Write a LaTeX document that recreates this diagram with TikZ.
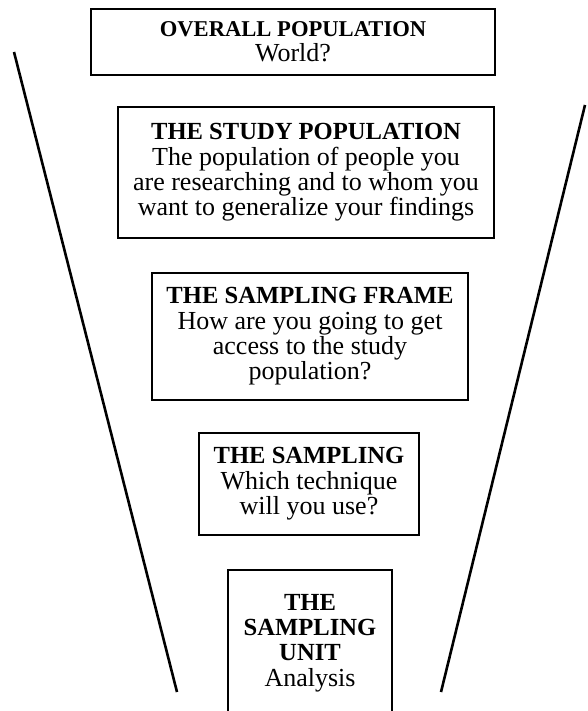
\documentclass[tikz,border=0pt]{standalone}
\usepackage{fontspec}
\setmainfont{Liberation Serif}
\usetikzlibrary{positioning}

\newcommand{\boxtitle}[2][12.3pt]{{\fontsize{#1}{12.7pt}\selectfont\bfseries #2}}

\begin{document}
\begin{tikzpicture}[
  x=0.5pt, y=-0.5pt,
  box/.style={draw, line width=1.25pt, align=center, inner sep=0pt,
    font=\fontsize{13pt}{12.7pt}\selectfont},
  funnel/.style={line width=1.3pt}
]
\useasboundingbox (0,0) rectangle (588,711);
\node[box, minimum width=202pt, minimum height=33pt] (overall) at (293,42)
  {\boxtitle[11.3pt]{OVERALL POPULATION}\\World?};
\node[box, minimum width=188pt, minimum height=65.5pt] (study) at (306,172.5)
  {\boxtitle{THE STUDY POPULATION}\\The population of people you\\are researching and to whom you\\want to generalize your findings};
\node[box, minimum width=158pt, minimum height=63.5pt] (frame) at (310,336.5)
  {\boxtitle{THE SAMPLING FRAME}\\How are you going to get\\access to the study\\population?};
\node[box, minimum width=110pt, minimum height=51pt] (sampling) at (309,484)
  {\boxtitle{THE SAMPLING}\\Which technique\\will you use?};
\node[box, minimum width=82pt, minimum height=73pt] (unit) at (310,643)
  {\boxtitle{THE}\\\boxtitle{SAMPLING}\\\boxtitle{UNIT}\\Analysis};
\coordinate (ltop) at (14,52);
\coordinate (lbot) at (177,692);
\coordinate (rtop) at (585,105);
\coordinate (rbot) at (441,692);
\draw[funnel] (ltop) -- (lbot);
\draw[funnel] (rtop) -- (rbot);
\end{tikzpicture}
\end{document}
